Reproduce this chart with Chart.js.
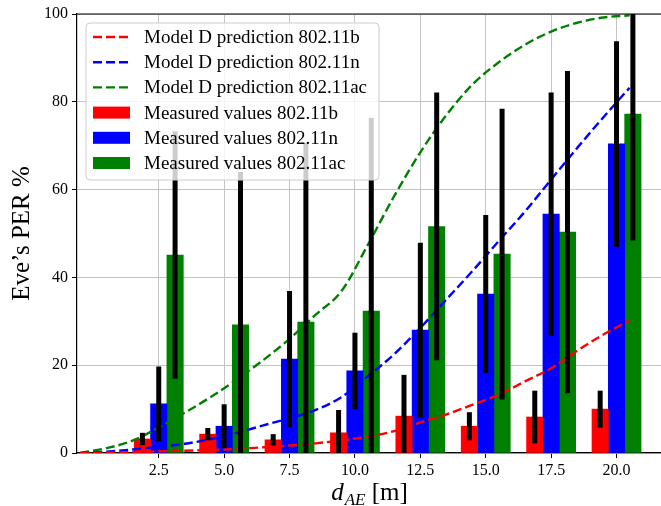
<!DOCTYPE html>
<html>
<head>
<meta charset="utf-8">
<script src="https://cdn.jsdelivr.net/npm/chart.js@4.4.1/dist/chart.umd.min.js"></script>
<style>
  html, body { margin: 0; padding: 0; background: #fff; }
</style>
</head>
<body>
<canvas id="perChart" width="661" height="506"></canvas>
<script>
// distances where measurements were taken (x tick labels too)
const distances = [2.5, 5.0, 7.5, 10.0, 12.5, 15.0, 17.5, 20.0];

// measured PER (mean) and error bar half-lengths
const measuredB  = [3.2, 4.3, 3.0, 4.6, 8.4, 6.1, 8.2, 10.0];
const errorB     = [1.4, 1.4, 1.3, 5.2, 9.4, 3.2, 6.0, 4.2];
const measuredN  = [11.2, 6.1, 21.4, 18.7, 28.0, 36.2, 54.4, 70.4];
const errorN     = [8.5, 5.0, 15.5, 8.7, 19.9, 18.0, 27.7, 23.4];
const measuredAC = [45.1, 29.2, 29.8, 32.3, 51.6, 45.3, 50.3, 77.2];
const errorAC    = [28.2, 34.8, 40.8, 44.0, 30.5, 33.1, 36.7, 28.8];

// model D predictions
const modelX  = [-0.5, 0.5, 1.5, 2.5, 3.5, 4.5, 5.5, 6.5, 7.5, 8.5, 9.5, 10.5, 11.5, 12.5, 13.5, 14.5, 15.5, 16.5, 17.5, 18.5, 19.5, 20.5];
const modelB  = [0, 0.1, 0.2, 0.4, 0.5, 0.7, 0.9, 1.3, 1.7, 2.2, 2.9, 3.7, 5.0, 7.0, 8.8, 11.0, 13.3, 16.3, 19.3, 23.3, 27.0, 30.2];
const modelN  = [0, 0.3, 0.8, 1.4, 2.1, 3.2, 4.6, 6.3, 7.9, 9.8, 12.8, 17.5, 22.5, 28.5, 35.0, 41.5, 48.3, 55.0, 62.3, 69.5, 76.5, 83.2];
const modelAC = [0, 1.1, 2.8, 5.8, 9.2, 12.8, 16.8, 21.2, 26.0, 31.5, 37.0, 47.5, 58.5, 68.5, 77.0, 84.0, 89.0, 93.0, 96.0, 98.0, 99.2, 99.7];

const yTicks = [0, 20, 40, 60, 80, 100];

const barStep = 0.625;   // spacing / width of grouped bars in x units
const serif = "'Liberation Serif', 'Times New Roman', serif";

function pts(xs, ys, shift) {
    return xs.map((x, i) => ({ x: x + (shift || 0), y: ys[i] }));
}

function lineSet(label, color, values) {
    return {
        type: 'line', label: label, data: pts(modelX, values),
        borderColor: color, borderWidth: 2.4, borderDash: [9, 4],
        pointRadius: 0, fill: false, cubicInterpolationMode: 'monotone', order: 0
    };
}

function barSet(label, color, values, errs, shift) {
    return {
        type: 'bar', label: label, data: pts(distances, values, shift),
        backgroundColor: color, barThickness: 16.4, grouped: false,
        errors: errs, order: 1
    };
}

const datasets = [
    lineSet('Model D prediction 802.11b', '#ff0000', modelB),
    lineSet('Model D prediction 802.11n', '#0000ff', modelN),
    lineSet('Model D prediction 802.11ac', '#008000', modelAC),
    barSet('Measured values 802.11b', '#ff0000', measuredB, errorB, -barStep),
    barSet('Measured values 802.11n', '#0000ff', measuredN, errorN, 0),
    barSet('Measured values 802.11ac', '#008000', measuredAC, errorAC, barStep)
];

// black error bars on top of the bars
const errorBars = {
    id: 'errorBars',
    afterDatasetsDraw(chart) {
        const { ctx, chartArea: a, scales: { x, y } } = chart;
        ctx.save();
        ctx.beginPath();
        ctx.rect(a.left, a.top, a.right - a.left, a.bottom - a.top);
        ctx.clip();
        ctx.strokeStyle = '#000';
        ctx.lineWidth = 5;
        chart.data.datasets.forEach(ds => {
            if (!ds.errors) return;
            ds.data.forEach((p, i) => {
                const px = x.getPixelForValue(p.x);
                ctx.beginPath();
                ctx.moveTo(px, y.getPixelForValue(p.y - ds.errors[i]));
                ctx.lineTo(px, y.getPixelForValue(p.y + ds.errors[i]));
                ctx.stroke();
            });
        });
        ctx.restore();
    }
};

// top spine, axis titles and the legend box
const decorations = {
    id: 'decorations',
    afterDraw(chart) {
        const { ctx, chartArea: a } = chart;
        ctx.save();
        ctx.strokeStyle = '#000';
        ctx.lineWidth = 1.2;
        ctx.beginPath();
        ctx.moveTo(a.left, a.top);
        ctx.lineTo(a.right, a.top);
        ctx.stroke();

        // y title
        ctx.fillStyle = '#000';
        ctx.save();
        ctx.translate(22, (a.top + a.bottom) / 2);
        ctx.rotate(-Math.PI / 2);
        ctx.font = '25px ' + serif;
        ctx.textAlign = 'center';
        ctx.textBaseline = 'middle';
        ctx.fillText('Eve\u2019s PER %', 0, 0);
        ctx.restore();

        // x title: d_AE [m]
        const base = 500;
        const big = 'italic 25px ' + serif, sub = 'italic 17px ' + serif, reg = '25px ' + serif;
        ctx.font = big; const w1 = ctx.measureText('d').width;
        ctx.font = sub; const w2 = ctx.measureText('AE').width;
        ctx.font = reg; const w3 = ctx.measureText(' [m]').width;
        let cx = (a.left + a.right) / 2 - (w1 + w2 + w3) / 2;
        ctx.textBaseline = 'alphabetic';
        ctx.textAlign = 'left';
        ctx.font = big; ctx.fillText('d', cx, base); cx += w1 + 1;
        ctx.font = sub; ctx.fillText('AE', cx, base + 5); cx += w2;
        ctx.font = reg; ctx.fillText(' [m]', cx, base);

        // legend
        const bx = a.left + 9, by = a.top + 9, bw = 293, bh = 157;
        ctx.beginPath();
        ctx.roundRect(bx, by, bw, bh, 4);
        ctx.fillStyle = 'rgba(255,255,255,0.8)';
        ctx.fill();
        ctx.strokeStyle = '#cccccc';
        ctx.lineWidth = 1;
        ctx.stroke();
        ctx.font = '19px ' + serif;
        ctx.textBaseline = 'middle';
        chart.data.datasets.forEach((ds, i) => {
            const ry = by + 14 + i * 25.2;
            const hx = bx + 7;
            if (ds.type === 'line') {
                ctx.strokeStyle = ds.borderColor;
                ctx.lineWidth = 2.4;
                ctx.setLineDash([9, 4]);
                ctx.beginPath();
                ctx.moveTo(hx, ry);
                ctx.lineTo(hx + 37, ry);
                ctx.stroke();
                ctx.setLineDash([]);
            } else {
                ctx.fillStyle = ds.backgroundColor;
                ctx.fillRect(hx, ry - 6, 37, 12);
            }
            ctx.fillStyle = '#000';
            ctx.fillText(ds.label, bx + 58, ry + 1);
        });
        ctx.restore();
    }
};

new Chart(document.getElementById('perChart'), {
    type: 'bar',
    data: { datasets: datasets },
    options: {
        responsive: false,
        animation: false,
        layout: { padding: { top: 14, right: 0, left: 0, bottom: 0 } },
        plugins: { legend: { display: false }, tooltip: { enabled: false } },
        scales: {
            x: {
                type: 'linear', min: -0.625, max: 21.7, offset: false,
                afterBuildTicks: s => { s.ticks = distances.map(v => ({ value: v })); },
                afterFit: s => { s.height = 53; },
                grid: { offset: false, color: '#c4c4c4', lineWidth: 1, tickLength: 5, tickColor: '#000' },
                border: { color: '#000', width: 1.2 },
                ticks: { color: '#000', font: { family: serif, size: 16 }, padding: 3, maxRotation: 0,
                         callback: v => Number(v).toFixed(1) }
            },
            y: {
                min: 0, max: 100,
                afterBuildTicks: s => { s.ticks = yTicks.map(v => ({ value: v })); },
                afterFit: s => { s.width = 77; },
                grid: { color: '#c4c4c4', lineWidth: 1, tickLength: 5, tickColor: '#000' },
                border: { color: '#000', width: 1.2 },
                ticks: { color: '#000', font: { family: serif, size: 16 }, padding: 4 }
            }
        }
    },
    plugins: [errorBars, decorations]
});
</script>
</body>
</html>
